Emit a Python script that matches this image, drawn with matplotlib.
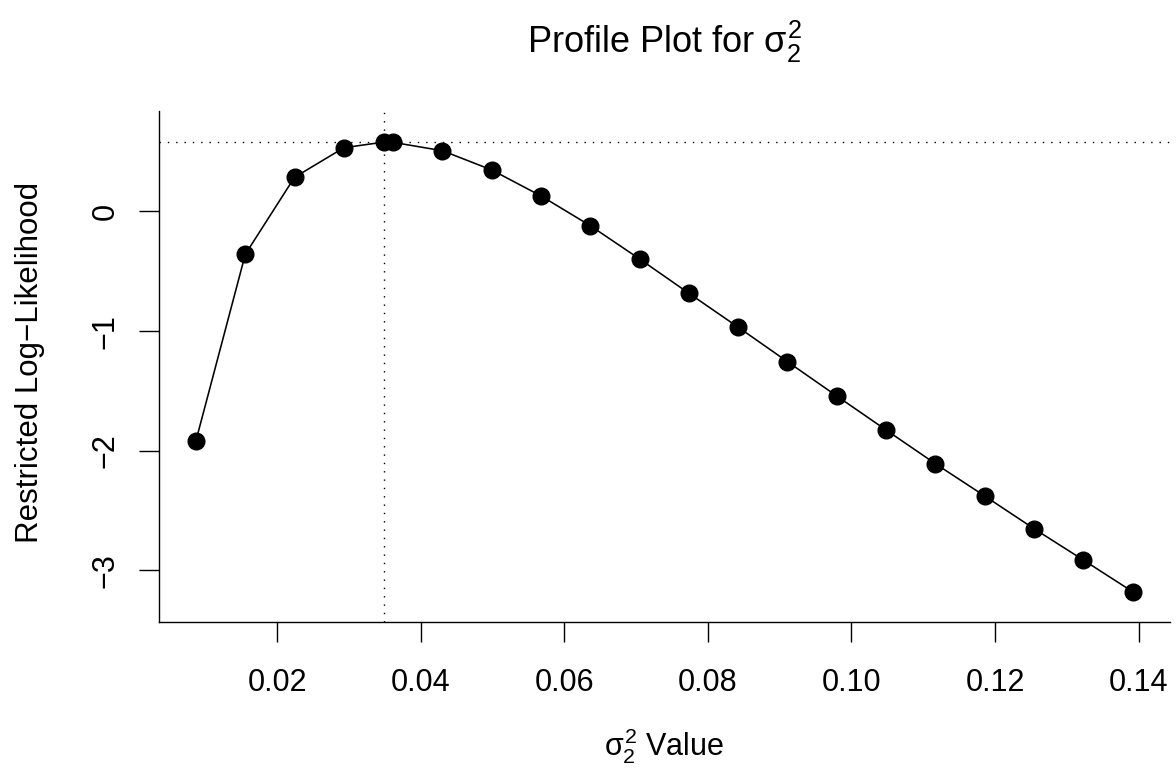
import numpy as np
import matplotlib.pyplot as plt

plt.rcParams['font.family'] = ['Liberation Sans', 'DejaVu Sans']
plt.rcParams['mathtext.fontset'] = 'custom'
plt.rcParams['mathtext.rm'] = 'Liberation Sans'
plt.rcParams['mathtext.it'] = 'Liberation Sans'

#profile values
sigma2 = [0.00870, 0.01557, 0.02243, 0.02930, 0.03484, 0.03616, 0.04303,
          0.04990, 0.05676, 0.06363, 0.07049, 0.07736, 0.08423, 0.09109,
          0.09796, 0.10482, 0.11169, 0.11856, 0.12542, 0.13229, 0.13916]
loglik = [-1.916, -0.358, 0.286, 0.533, 0.580, 0.578, 0.508,
          0.347, 0.130, -0.119, -0.397, -0.684, -0.968, -1.256,
          -1.543, -1.827, -2.109, -2.379, -2.652, -2.914, -3.179]

mle_x = 0.03484
mle_y = 0.580

x_ticks = [0.02, 0.04, 0.06, 0.08, 0.10, 0.12, 0.14]
x_labels = ["0.02", "0.04", "0.06", "0.08", "0.10", "0.12", "0.14"]
y_ticks = [0, -1, -2, -3]
y_labels = ["0", "\u22121", "\u22122", "\u22123"]


fig = plt.figure(figsize=(11.76, 7.71), dpi=100)
ax = fig.add_axes([0.1348, 0.1937, 0.8601, 0.6623])

ax.plot(sigma2, loglik, color="black", lw=1.15, marker="o",
        markersize=12, markerfacecolor="black", markeredgecolor="black")

ax.axhline(mle_y, color="black", lw=1.0, linestyle=(0, (1, 5)))
ax.axvline(mle_x, color="black", lw=1.0, linestyle=(0, (1, 5)))

#R style 4% padding on x
xr = max(sigma2) - min(sigma2)
ax.set_xlim(min(sigma2) - 0.04 * xr, max(sigma2) + 0.04 * xr)
ax.set_ylim(-3.43, 0.84)

ax.set_xticks(x_ticks)
ax.set_xticklabels(x_labels)
ax.set_yticks(y_ticks)
ax.set_yticklabels(y_labels, rotation=90, va="center")

ax.tick_params(axis="both", direction="out", length=14.5, width=1.0,
               labelsize=22, color="black")
ax.tick_params(axis="x", pad=19)
ax.tick_params(axis="y", pad=13)

for side in ["top", "right"]:
    ax.spines[side].set_visible(False)
for side in ["left", "bottom"]:
    ax.spines[side].set_linewidth(1.0)

fig.text(665 / 1176, 1 - 42 / 771, r"Profile Plot for $\sigma_2^2$",
         ha="center", va="center", fontsize=26)
fig.text(664 / 1176, 1 - 746 / 771, r"$\sigma_2^2$ Value",
         ha="center", va="center", fontsize=22)
fig.text(30 / 1176, 1 - 362 / 771, "Restricted Log\u2212Likelihood",
         ha="center", va="center", rotation=90, fontsize=22.5)

fig.savefig("out.png", dpi=100)
